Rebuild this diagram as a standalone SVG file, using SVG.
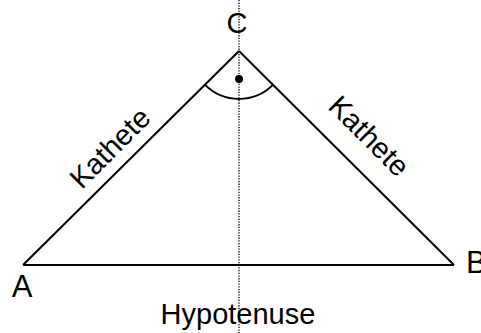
<svg xmlns="http://www.w3.org/2000/svg" width="481" height="333" viewBox="0 0 481 333">
<style>
.lbl{font-family:"Liberation Sans",Arial,sans-serif;font-size:29px;fill:#000}
.edge{fill:none;stroke:#000;stroke-width:2}
</style>
<rect width="481" height="333" fill="#fff"/>
<g id="connectors">
<line class="edge" x1="23" y1="265" x2="239" y2="51"/>
<line class="edge" x1="239" y1="51" x2="454" y2="265"/>
<line class="edge" x1="23" y1="265" x2="454" y2="265"/>
<line x1="239" y1="0" x2="239" y2="333" stroke="#000" stroke-width="1.3" stroke-dasharray="1.3,1.4"/>
<path class="edge" d="M205.1,84.9 A48,48 0 0,0 272.9,84.9" stroke-width="2"/>
<circle cx="239" cy="79" r="4" fill="#000"/>
</g>
<g id="node-C"><text class="lbl" x="237" y="33" text-anchor="middle">C</text></g>
<g id="node-A"><text class="lbl" x="22" y="297" text-anchor="middle" style="font-size:31px">A</text></g>
<g id="node-B"><text class="lbl" x="466" y="273" style="font-size:31px">B</text></g>
<g id="label-hyp"><text class="lbl" x="238" y="324" text-anchor="middle">Hypotenuse</text></g>
<g id="label-kath-left"><text class="lbl" transform="translate(117,155) rotate(-45)" text-anchor="middle">Kathete</text></g>
<g id="label-kath-right"><text class="lbl" transform="translate(362,143) rotate(45)" text-anchor="middle">Kathete</text></g>
</svg>
